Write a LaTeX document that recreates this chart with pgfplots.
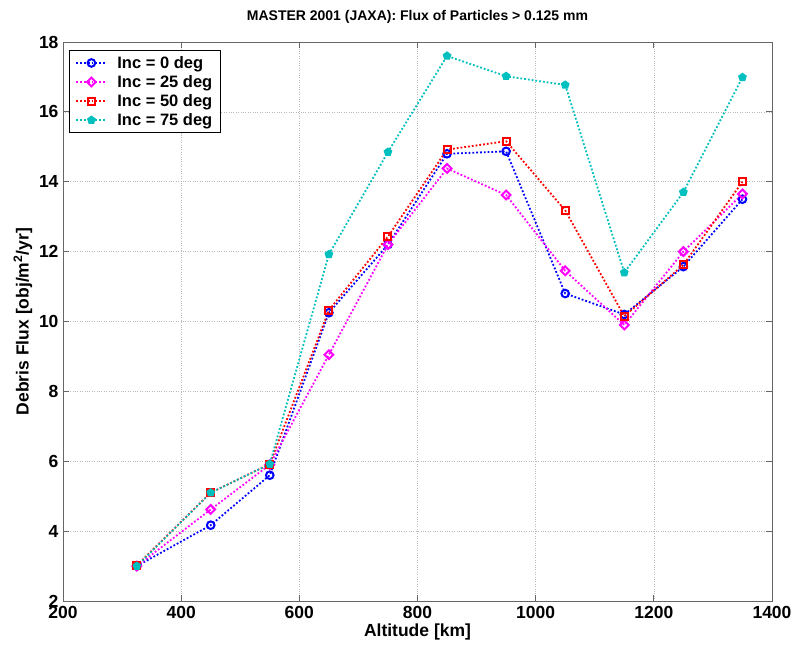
\documentclass[border=0pt]{standalone}
\usepackage{pgfplots}
\pgfplotsset{compat=1.18}
\usepackage{fontspec}
\setmainfont{Liberation Sans}
\definecolor{mcyan}{RGB}{0,191,191}
\definecolor{mmag}{RGB}{255,0,255}
\definecolor{mblue}{RGB}{0,0,255}
\definecolor{mred}{RGB}{255,0,0}
\begin{document}
\begin{tikzpicture}
\begin{axis}[
  scale only axis, width=709pt, height=559pt,
  xmin=200, xmax=1400, ymin=2, ymax=18,
  xtick={200,400,...,1400}, ytick={2,4,...,18},
  grid=major, grid style={dotted, gray!55, line width=0.6pt},
  tick align=inside, major tick length=6pt,
  axis line style={black!60, line width=0.9pt},
  tick style={black!60, line width=0.9pt},
  /pgf/number format/assume math mode=true,
  /pgf/number format/1000 sep={},
  ticklabel style={font=\fontsize{17.5}{19}\selectfont\bfseries},
  xticklabel style={yshift=-2pt},
  yticklabel style={xshift=-1pt},
  xlabel={Altitude [km]}, ylabel={Debris Flux [obj/m\textsuperscript{2}/yr]},
  label style={font=\fontsize{17.5}{19}\selectfont\bfseries},
  xlabel style={yshift=2pt},
  title={MASTER 2001 (JAXA): Flux of Particles > 0.125 mm},
  title style={font=\fontsize{14}{16}\selectfont\bfseries, yshift=9pt},
  legend style={font=\fontsize{16.5}{19}\selectfont\bfseries, draw=black, line width=0.8pt, at={(0.0085,0.986)}, anchor=north west, row sep=1.6pt, inner xsep=6pt, inner ysep=4pt},
  legend cell align=left,
  legend image code/.code={
    \draw[mark repeat=2,mark phase=2] plot coordinates {(0cm,0cm) (0.53cm,0cm) (1.06cm,0cm)};},
  every axis plot/.append style={line width=1.8pt, dotted},
]
\addplot[mblue, mark=o, mark size=3.8pt, mark options={solid, line width=2pt}] coordinates {
(325,3.0) (450,4.17) (550,5.6) (650,10.25) (750,12.2) (850,14.8) (950,14.87) (1050,10.8) (1150,10.2) (1250,11.57) (1350,13.5)};
\addlegendentry{\hspace{8pt}Inc = 0 deg}
\addplot[mmag, mark=square, mark size=3.1pt, mark options={solid, line width=2pt, rotate=45}] coordinates {
(325,3.0) (450,4.62) (550,5.9) (650,9.05) (750,12.2) (850,14.38) (950,13.62) (1050,11.45) (1150,9.9) (1250,12.0) (1350,13.65)};
\addlegendentry{\hspace{8pt}Inc = 25 deg}
\addplot[mred, mark=square, mark size=3.5pt, mark options={solid, line width=2pt}] coordinates {
(325,3.02) (450,5.1) (550,5.92) (650,10.32) (750,12.43) (850,14.92) (950,15.16) (1050,13.18) (1150,10.15) (1250,11.62) (1350,14.0)};
\addlegendentry{\hspace{8pt}Inc = 50 deg}
\addplot[mcyan, mark=pentagon*, mark size=4pt, mark options={solid, line width=1pt}] coordinates {
(325,3.0) (450,5.1) (550,5.92) (650,11.92) (750,14.85) (850,17.6) (950,17.02) (1050,16.77) (1150,11.4) (1250,13.7) (1350,16.99)};
\addlegendentry{\hspace{8pt}Inc = 75 deg}
\end{axis}
\pgfresetboundingbox
\path (current axis.south west) ++(-63pt,-57pt) rectangle ([shift={(24pt,42pt)}]current axis.north east);
\end{tikzpicture}
\end{document}
